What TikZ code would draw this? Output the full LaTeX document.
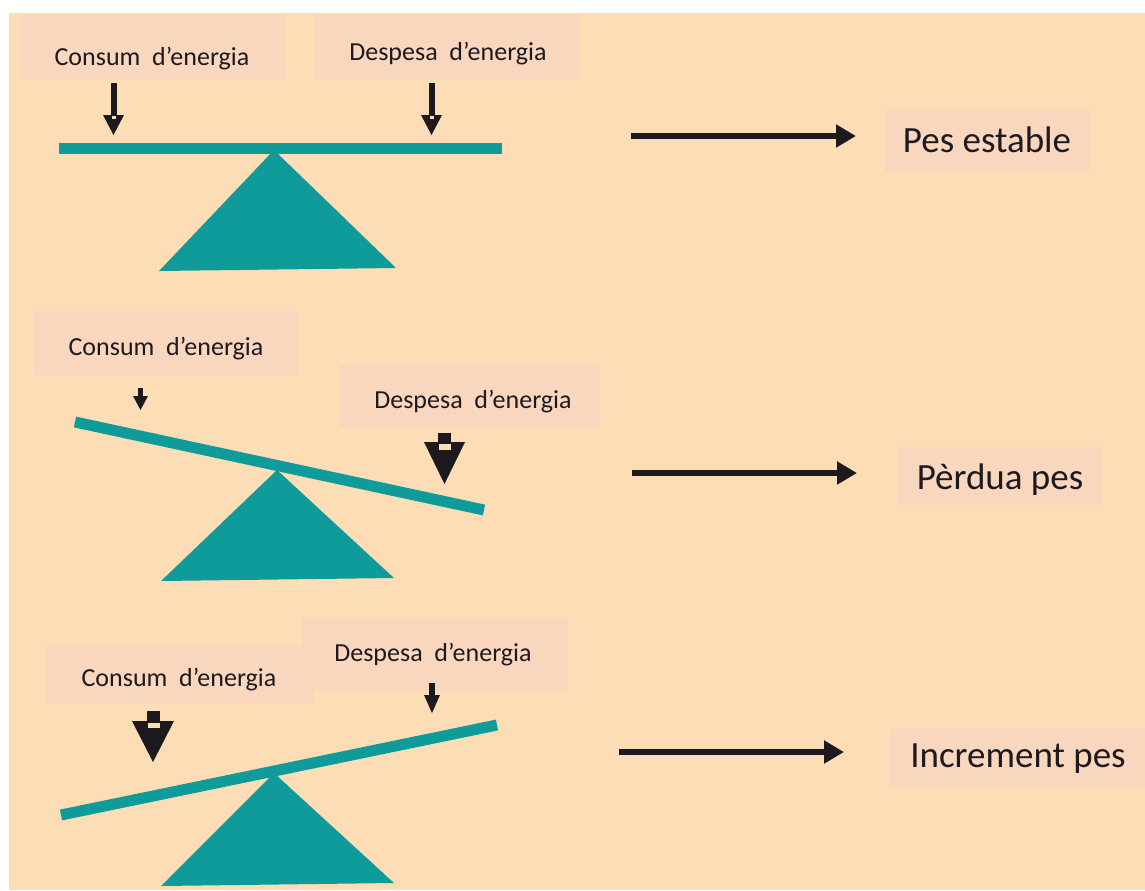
\documentclass[tikz,border=0pt]{standalone}
\usepackage{fontspec}
\setmainfont{Carlito}
\usetikzlibrary{arrows.meta}
\definecolor{bgpeach}{RGB}{253,221,181}
\definecolor{lblpink}{RGB}{249,215,191}
\definecolor{beamteal}{RGB}{16,155,155}
\definecolor{inkblack}{RGB}{30,25,30}
\tikzset{
  lblbox/.style={fill=lblpink, inner sep=0pt},
  lbltext/.style={anchor=base, inner sep=0pt, text=inkblack, font=\fontsize{13pt}{15pt}\selectfont},
  restext/.style={anchor=base, inner sep=0pt, text=inkblack, font=\fontsize{18.5pt}{21pt}\selectfont},
  beam/.style={draw=beamteal, line width=5.5pt},
  pivot/.style={fill=beamteal},
  resarrow/.style={draw=inkblack, line width=2.6pt, -{Triangle[length=10pt,width=11pt]}},
  ink/.style={fill=inkblack},
  gap/.style={fill=bgpeach}
}
\newcommand{\ce}{Consum\hspace{0.45em}d’energia}
\newcommand{\de}{Despesa\hspace{0.45em}d’energia}
\begin{document}
\begin{tikzpicture}[x=0.5pt,y=-0.5pt]
\useasboundingbox (0,0) rectangle (1145,890);
\fill[white] (0,0) rectangle (1145,890);
\fill[bgpeach] (9,13) rectangle (1145,890);

% ---------- Panel 1 ----------
\node[lblbox, minimum width=132.5pt, minimum height=32pt] (c1box) at (152.5,47) {};
\node[lbltext] (c1) at (152,65) {\ce};
\node[lblbox, minimum width=132.5pt, minimum height=32pt] (d1box) at (447.5,47) {};
\node[lbltext] (d1) at (448,60) {\de};
\draw[beam] (59,148) coordinate (b1l) -- (502,148) coordinate (b1r);
\fill[pivot] (274,150) -- (396,268) -- (159,271) -- cycle;
% small arrows
\fill[ink] (111,83) rectangle (117,117);
\fill[ink] (103,115) -- (124,115) -- (113.5,135) -- cycle;
\fill[gap] (112,116) rectangle (116,119);
\fill[ink] (429,83) rectangle (435,117);
\fill[ink] (421,115) -- (442,115) -- (431.5,135) -- cycle;
\fill[gap] (430,116) rectangle (434,119);
\node[lblbox, minimum width=102.5pt, minimum height=31pt] (r1box) at (987.5,141) {};
\node[restext] (r1) at (987,152) {Pes estable};
\coordinate (a1s) at (631,136);
\coordinate (a1e) at (856,136);
\draw[resarrow] (a1s) -- (a1e);

% ---------- Panel 2 ----------
\node[lblbox, minimum width=132pt, minimum height=32pt] (c2box) at (166,343) {};
\node[lbltext] (c2) at (166,355) {\ce};
\node[lblbox, minimum width=130pt, minimum height=31pt] (d2box) at (470,396) {};
\node[lbltext] (d2) at (473,408) {\de};
\draw[beam] (75,422) coordinate (b2l) -- (484,510) coordinate (b2r);
\fill[pivot] (277,470) -- (394,578) -- (161,581) -- cycle;
% small arrow
\fill[ink] (138,388) rectangle (143,398);
\fill[ink] (133,396) -- (148,396) -- (140.5,410) -- cycle;
% weight arrow
\fill[ink] (438,433) rectangle (451,443);
\fill[ink] (424,442) -- (465,442) -- (444.5,484) -- cycle;
\fill[gap] (438.5,444) rectangle (450.5,450);
\node[lblbox, minimum width=102pt, minimum height=29pt] (r2box) at (1000,476) {};
\node[restext] (r2) at (1000,489) {Pèrdua pes};
\coordinate (a2s) at (632,473);
\coordinate (a2e) at (857,473);
\draw[resarrow] (a2s) -- (a2e);

% ---------- Panel 3 ----------
\node[lblbox, minimum width=134pt, minimum height=29pt] (c3box) at (180,674) {};
\node[lbltext] (c3) at (179,686) {\ce};
\node[lblbox, minimum width=133pt, minimum height=36pt] (d3box) at (435,654) {};
\node[lbltext] (d3) at (433,661) {\de};
\draw[beam] (61,815) coordinate (b3l) -- (497,725) coordinate (b3r);
\fill[pivot] (274,773) -- (394,883) -- (161,886) -- cycle;
% small arrow
\fill[ink] (429,683) rectangle (435,697);
\fill[ink] (424,695) -- (440,695) -- (432,713) -- cycle;
% weight arrow
\fill[ink] (147,711) rectangle (160,722);
\fill[ink] (132,721) -- (174,721) -- (153,762) -- cycle;
\fill[gap] (147.5,723) rectangle (159.5,728);
\node[lblbox, minimum width=127.5pt, minimum height=29.5pt] (r3box) at (1017.5,758) {};
\node[restext] (r3) at (1018,767) {Increment pes};
\coordinate (a3s) at (619,752);
\coordinate (a3e) at (844,752);
\draw[resarrow] (a3s) -- (a3e);
\end{tikzpicture}
\end{document}
